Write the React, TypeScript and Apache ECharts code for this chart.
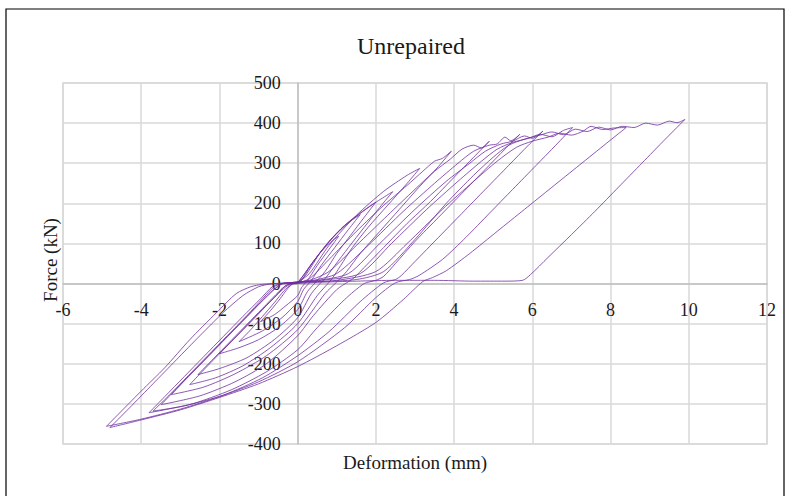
import React, { useEffect, useRef } from "react";
import * as echarts from "echarts";

// Tick values
const xTicks = { min: -6, max: 12, step: 2 };
const yTicks = { min: -400, max: 500, step: 100 };

// Hysteresis cycles, [deformation mm, force kN]
const cycle1 = [[-0.2,0],[0,0],[0.3,40],[0.6,80],[0.9,108],[1.05,118],[0.8,85],[0.5,45],[0.3,15],[0.2,2],[0.1,-10],[0,-30],[-0.3,-55],[-0.6,-78],[-0.95,-95],[-0.7,-68],[-0.45,-38],[-0.25,-12],[-0.1,0],[0,0]];
const cycle2 = [[-0.1,0],[0,2],[0.4,55],[0.8,105],[1.2,145],[1.6,172],[1.3,135],[0.95,90],[0.6,45],[0.4,15],[0.3,2],[0.15,-15],[0,-45],[-0.4,-85],[-0.9,-118],[-1.5,-145],[-1.2,-115],[-0.9,-82],[-0.6,-48],[-0.35,-18],[-0.15,-2],[0,0]];
const cycle3 = [[-0.15,0],[0,3],[0.4,55],[0.9,115],[1.4,160],[2.0,203],[1.7,165],[1.35,120],[1.0,75],[0.7,30],[0.45,2],[0.25,-20],[0,-65],[-0.5,-110],[-1.0,-140],[-1.5,-160],[-2.0,-175],[-1.7,-145],[-1.3,-105],[-0.9,-65],[-0.55,-30],[-0.3,-8],[-0.15,0]];
const cycle4 = [[-0.15,0],[0,3],[0.2,20],[0.6,80],[1.2,145],[1.8,190],[2.43,229],[2.1,190],[1.7,140],[1.3,90],[0.95,45],[0.7,12],[0.6,3],[0.35,-25],[0,-85],[-0.6,-140],[-1.3,-185],[-2.0,-212],[-2.55,-227],[-2.2,-192],[-1.7,-142],[-1.2,-92],[-0.8,-52],[-0.5,-22],[-0.3,-5],[-0.15,0]];
const cycle5 = [[-0.15,0],[0,3],[0.3,25],[0.8,95],[1.5,170],[2.2,230],[2.8,270],[3.12,287],[2.8,250],[2.3,195],[1.8,140],[1.4,90],[1.1,45],[0.9,15],[0.8,3],[0.5,-30],[0,-100],[-0.7,-160],[-1.4,-205],[-2.1,-235],[-2.76,-252],[-2.4,-215],[-1.9,-165],[-1.4,-115],[-0.9,-65],[-0.55,-30],[-0.35,-8],[-0.2,0]];
const cycle6 = [[-0.2,0],[0,2],[0.3,12],[0.8,60],[1.5,130],[2.2,195],[2.8,245],[3.2,280],[3.5,305],[3.7,312],[3.93,330],[3.6,292],[3.1,240],[2.6,185],[2.1,130],[1.6,75],[1.25,30],[1.0,4],[0.7,-25],[0,-115],[-0.8,-180],[-1.6,-225],[-2.4,-258],[-3.23,-277],[-2.9,-243],[-2.4,-193],[-1.9,-143],[-1.4,-93],[-0.95,-48],[-0.6,-15],[-0.4,0]];
const cycle7 = [[-0.4,0],[-0.1,3],[0.3,8],[0.8,30],[1.5,95],[2.3,170],[3.0,235],[3.5,280],[3.9,310],[4.2,335],[4.5,345],[4.7,338],[4.9,355],[4.5,315],[4.0,265],[3.4,205],[2.8,150],[2.2,90],[1.7,40],[1.45,15],[1.3,5],[1.0,-15],[0.4,-80],[0,-130],[-0.8,-200],[-1.6,-245],[-2.5,-280],[-3.49,-302],[-3.1,-262],[-2.6,-212],[-2.1,-162],[-1.6,-112],[-1.1,-62],[-0.7,-22],[-0.45,-3],[-0.3,0]];
const cycle8 = [[-0.3,0],[0,3],[0.4,8],[1.0,25],[1.8,95],[2.7,180],[3.5,250],[4.1,300],[4.5,330],[4.9,345],[5.1,348],[5.3,365],[5.45,356],[5.68,372],[5.3,335],[4.8,285],[4.2,225],[3.6,165],[3.0,105],[2.5,50],[2.2,18],[2.0,8],[1.7,0],[1.2,-40],[0.5,-110],[0,-165],[-0.8,-220],[-1.7,-265],[-2.7,-300],[-3.8,-322],[-3.4,-282],[-2.9,-232],[-2.4,-182],[-1.9,-132],[-1.4,-82],[-0.95,-38],[-0.65,-8],[-0.45,0]];
const cycle9 = [[-0.45,0],[-0.1,3],[0.5,8],[1.3,25],[2.1,100],[3.0,185],[3.8,255],[4.4,300],[4.8,330],[5.2,348],[5.5,355],[5.8,368],[6.0,362],[6.27,380],[5.9,345],[5.4,295],[4.8,235],[4.2,175],[3.6,115],[3.0,55],[2.65,20],[2.5,10],[2.2,2],[1.6,-45],[0.8,-120],[0,-180],[-0.9,-235],[-1.9,-278],[-2.9,-305],[-3.7,-318],[-3.3,-280],[-2.8,-230],[-2.3,-180],[-1.8,-130],[-1.3,-80],[-0.9,-38],[-0.6,-8],[-0.4,0]];
const cycle10 = [[-0.4,0],[-0.1,3],[0.6,8],[1.6,25],[2.4,100],[3.3,185],[4.1,255],[4.7,305],[5.1,335],[5.5,352],[5.9,362],[6.2,372],[6.5,366],[6.8,382],[7.03,389],[6.6,345],[6.1,295],[5.5,235],[4.9,175],[4.3,115],[3.7,60],[3.1,20],[2.86,10],[2.5,2],[2.0,-35],[1.2,-110],[0,-195],[-1.0,-245],[-2.0,-282],[-3.0,-313],[-4.0,-338],[-4.89,-356],[-4.0,-268],[-3.4,-210],[-2.76,-140],[-2.08,-73],[-1.57,-25],[-1.2,-8],[-0.9,-2],[-0.5,0]];
const cycle11 = [[-0.5,0],[0,3],[1.0,8],[2.0,30],[2.8,100],[3.7,185],[4.5,255],[5.1,305],[5.6,340],[6.0,355],[6.4,365],[6.7,375],[7.0,370],[7.3,380],[7.5,392],[7.8,384],[8.1,388],[8.4,389],[7.9,350],[7.2,295],[6.5,240],[5.8,185],[5.1,130],[4.4,75],[3.8,32],[3.45,15],[3.2,5],[2.7,-40],[2.0,-97],[1.0,-155],[0,-207],[-1.0,-250],[-2.0,-284],[-3.0,-315],[-4.0,-340],[-4.8,-359],[-4.3,-310],[-3.7,-250],[-3.1,-190],[-2.5,-130],[-1.9,-72],[-1.4,-30],[-1.0,-8],[-0.7,-1],[-0.4,1]];
const cycle12 = [[-0.4,1],[0.5,5],[1.5,10],[2.2,30],[3.0,110],[3.8,200],[4.5,270],[5.0,315],[5.4,345],[5.8,360],[6.2,370],[6.5,378],[6.8,371],[7.1,385],[7.4,379],[7.7,390],[8.0,383],[8.3,392],[8.6,389],[8.9,400],[9.2,395],[9.5,405],[9.7,401],[9.9,409],[9.4,360],[8.8,300],[8.2,240],[7.6,180],[7.0,122],[6.4,65],[5.95,22],[5.75,8],[5.3,6],[4.5,6],[3.5,8],[2.5,8],[1.5,6],[0.5,3],[0,0]];

const cycles = [cycle1, cycle2, cycle3, cycle4, cycle5, cycle6, cycle7, cycle8, cycle9, cycle10, cycle11, cycle12];

const titleText = "Unrepaired";
const xName = "Deformation (mm)";
const yName = "Force (kN)";

const FONT = "Liberation Serif";

const GRID = { left: 63, right: 24, top: 83, bottom: 52 };
const W = 791;
const H = 496;

export default function App() {
  const ref = useRef<HTMLDivElement>(null);
  useEffect(() => {
    if (!ref.current) return;
    const chart = echarts.init(ref.current, undefined, { renderer: "svg" });
    const plotW = W - GRID.left - GRID.right;
    const plotH = H - GRID.top - GRID.bottom;
    // shift each axis so it sits on the other axis's zero
    const yAxisOffset = -plotW * (0 - xTicks.min) / (xTicks.max - xTicks.min);
    const xAxisOffset = -plotH * (0 - yTicks.min) / (yTicks.max - yTicks.min);
    const labelStyle = { color: "#1a1a1a", fontSize: 18, fontFamily: FONT };
    chart.setOption({
      animation: false,
      backgroundColor: "#fff",
      textStyle: { fontFamily: FONT },
      title: {
        text: titleText,
        left: 406,
        top: 29,
        textAlign: "center",
        textStyle: { fontFamily: FONT, fontSize: 24, fontWeight: "normal", color: "#1a1a1a" },
      },
      grid: { ...GRID, show: true, borderColor: "#d9d9d9", borderWidth: 1.5 },
      xAxis: {
        type: "value",
        position: "bottom",
        offset: xAxisOffset,
        min: xTicks.min,
        max: xTicks.max,
        interval: xTicks.step,
        axisLine: { onZero: false, lineStyle: { color: "#bfbfbf", width: 1.5 } },
        axisTick: { show: false },
        axisLabel: { ...labelStyle, margin: 17 },
        splitLine: { show: true, lineStyle: { color: "#d9d9d9", width: 1.5 } },
      },
      yAxis: {
        type: "value",
        position: "left",
        offset: yAxisOffset,
        min: yTicks.min,
        max: yTicks.max,
        interval: yTicks.step,
        axisLine: { show: true, onZero: false, lineStyle: { color: "#bfbfbf", width: 1.5 } },
        axisTick: { show: false },
        axisLabel: { ...labelStyle, margin: 17 },
        splitLine: { show: true, lineStyle: { color: "#d9d9d9", width: 1.5 } },
      },
      series: cycles.map((c, i) => ({
        type: "line",
        name: "cycle" + (i + 1),
        data: c,
        showSymbol: false,
        smooth: 0.25,
        lineStyle: { color: "#7030A0", width: 1, opacity: 0.8 },
        emphasis: { disabled: true },
      })),
      graphic: [
        {
          type: "rect",
          shape: { x: 6, y: 9, width: 778, height: 500 },
          style: { fill: "none", stroke: "#000", lineWidth: 1.2 },
          silent: true,
        },
        {
          type: "text",
          x: 415,
          y: 462,
          style: { text: xName, fontFamily: FONT, fontSize: 19, fill: "#1a1a1a", textAlign: "center", textVerticalAlign: "middle" },
        },
        {
          type: "text",
          x: 50,
          y: 260,
          rotation: Math.PI / 2,
          style: { text: yName, fontFamily: FONT, fontSize: 19, fill: "#1a1a1a", textAlign: "center", textVerticalAlign: "middle" },
        },
      ],
    });
    return () => chart.dispose();
  }, []);
  return <div ref={ref} style={{ width: W, height: H, position: "absolute", left: 0, top: 0 }} />;
}
